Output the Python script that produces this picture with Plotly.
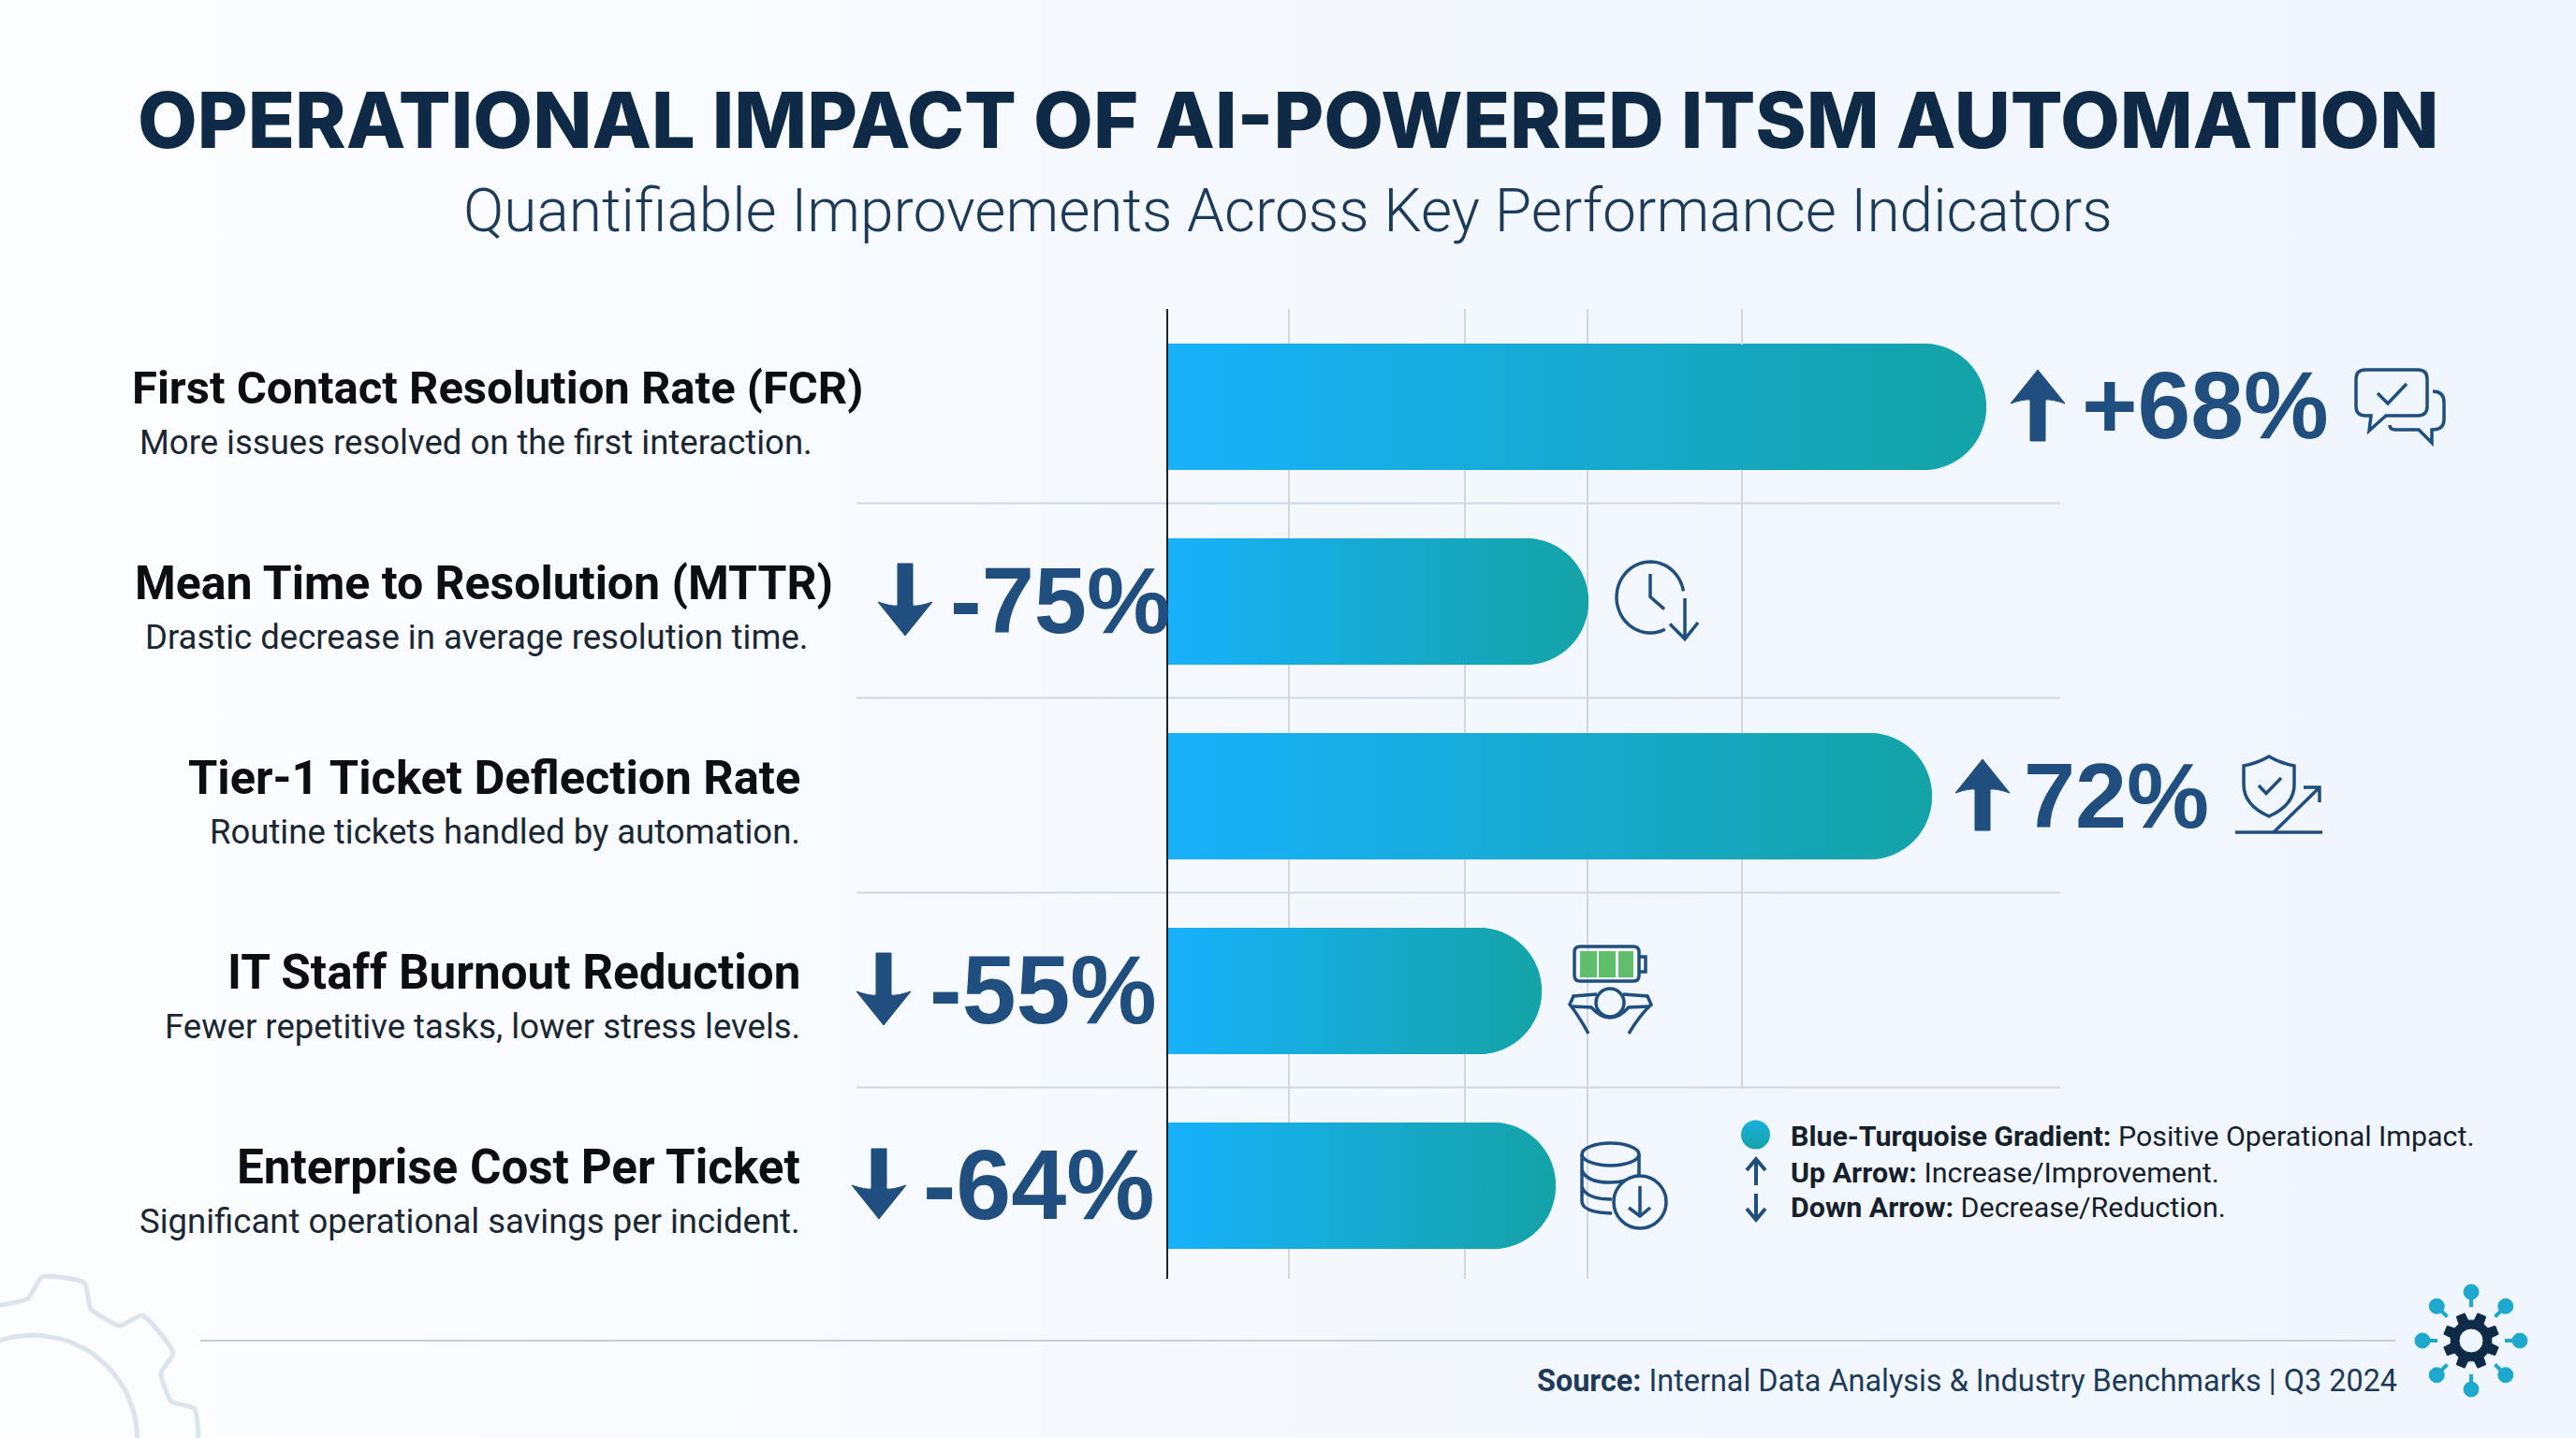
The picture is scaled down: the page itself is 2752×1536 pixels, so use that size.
import math
import plotly.graph_objects as go

W = 2752
H = 1536

# ---- data ----
categories = [
    "First Contact Resolution Rate (FCR)",
    "Mean Time to Resolution (MTTR)",
    "Tier-1 Ticket Deflection Rate",
    "IT Staff Burnout Reduction",
    "Enterprise Cost Per Ticket",
]
descriptions = [
    "More issues resolved on the first interaction.",
    "Drastic decrease in average resolution time.",
    "Routine tickets handled by automation.",
    "Fewer repetitive tasks, lower stress levels.",
    "Significant operational savings per incident.",
]
change_labels = ["+68%", "-75%", "72%", "-55%", "-64%"]
directions = ["up", "down", "up", "down", "down"]
# drawn bar lengths, they do not follow the printed percentages
bar_lengths = [87.4, 44.9, 81.6, 39.9, 41.4]
grid_ticks = [12.9, 31.7, 44.8]
short_grid_tick = 61.3

title = "OPERATIONAL IMPACT OF AI-POWERED ITSM AUTOMATION"
subtitle = "Quantifiable Improvements Across Key Performance Indicators"
legend_bold = ["Blue-Turquoise Gradient:", "Up Arrow:", "Down Arrow:"]
legend_text = ["Positive Operational Impact.", "Increase/Improvement.", "Decrease/Reduction."]
source_bold = "Source:"
source_text = "Internal Data Analysis & Industry Benchmarks | Q3 2024"

# ---- colours ----
NAVY = "#0F2A47"
BLUE = "#1F4E7F"
GRID = "#D0D7E0"
TEAL = "#1FA8CE"
BAR_SCALE = [[0, "#18B1FB"], [1, "#14A3A6"]]
ICON = dict(color=BLUE, width=3.5)

BAR_WIDTH = 0.649
AXIS_X0, AXIS_X1 = 1248, 2248
AXIS_Y0, AXIS_Y1 = 330, 1366
ROW_PX = 208
TOP_CENTER = 434.5
Y_TOP = (AXIS_Y0 - TOP_CENTER) / ROW_PX
Y_BOTTOM = (AXIS_Y1 - TOP_CENTER) / ROW_PX

shapes = []
annotations = []


def note(x, y, text, size, color, anchor="right", family="Roboto", weight=None):
    annotations.append(dict(
        x=x, y=y, xref="x", yref="y", text=text, showarrow=False,
        xanchor=anchor, yanchor="middle",
        font=dict(family=family, size=size, color=color, weight=weight),
    ))


def draw(path, line=ICON, fill=None):
    shapes.append(dict(
        type="path", xref="x", yref="y", path=path, line=line,
        fillcolor=fill if fill else "rgba(0,0,0,0)", layer="above",
    ))


def ellipse(cx, cy, rx, ry, line=ICON, fill=None):
    shapes.append(dict(
        type="circle", xref="x", yref="y", x0=cx - rx, x1=cx + rx, y0=cy - ry, y1=cy + ry,
        line=line, fillcolor=fill if fill else "rgba(0,0,0,0)", layer="above",
    ))


def arc(cx, cy, rx, ry, start, stop, steps=40):
    pts = []
    for i in range(steps + 1):
        a = math.radians(start + (stop - start) * i / steps)
        pts.append((cx + rx * math.cos(a), cy + ry * math.sin(a)))
    return "M" + " L".join(f"{x:.1f},{y:.1f}" for x, y in pts)


def big_arrow(cx, y0, y1, half, up):
    # filled arrow with swept back head, y0 is the top
    s = 1 if up else -1
    tip = y0 if up else y1
    tail = y1 if up else y0
    neck = tip + s * 32
    barb = tip + s * 36
    stem = 8
    draw(
        f"M{cx},{tip} L{cx + half},{barb} Q{cx + half * 0.5},{neck - s * 1} {cx + stem},{neck} "
        f"L{cx + stem},{tail} L{cx - stem},{tail} L{cx - stem},{neck} "
        f"Q{cx - half * 0.5},{neck - s * 1} {cx - half},{barb} Z",
        line=dict(color=BLUE, width=1), fill=BLUE,
    )


def bar_outline(length):
    # rounded end in data units, 1 unit = 10 px on the x axis
    half = BAR_WIDTH / 2
    rx = half * ROW_PX / 10
    xs, ys = [0], [-half]
    for i in range(41):
        a = math.radians(-90 + 180 * i / 40)
        xs.append(length - rx + rx * math.cos(a))
        ys.append(half * math.sin(a))
    xs.append(0)
    ys.append(half)
    xs.append(0)
    ys.append(-half)
    return xs, ys


fig = go.Figure()

# page background
fig.add_trace(go.Scatter(
    x=[0, W, W, 0, 0], y=[0, 0, H, H, 0], mode="lines", fill="toself", line=dict(width=0),
    fillgradient=dict(type="horizontal", colorscale=[[0, "#FCFDFF"], [0.6, "#F3F8FE"], [1, "#F0F6FD"]]),
    hoverinfo="skip", showlegend=False,
))

# row separators and footer rule
for i in range(len(categories) - 1):
    y_sep = 433.5 + ROW_PX * (i + 0.5)
    fig.add_trace(go.Scatter(
        x=[915, 2201], y=[y_sep, y_sep], mode="lines", line=dict(color=GRID, width=2),
        hoverinfo="skip", showlegend=False,
    ))
fig.add_trace(go.Scatter(
    x=[214, 2559], y=[1432, 1432], mode="lines", line=dict(color="#C5CDD8", width=2),
    hoverinfo="skip", showlegend=False,
))

# faint gear bottom left
fig.add_trace(go.Scatter(
    x=[-5, 30, 45, 90, 97, 128, 152, 185, 172, 183, 208, 212],
    y=[1395, 1387, 1364, 1370, 1398, 1416, 1405, 1445, 1467, 1497, 1505, 1540],
    mode="lines", line=dict(color="#DCE3EC", width=5, shape="spline", smoothing=0.5),
    hoverinfo="skip", showlegend=False,
))
fig.add_trace(go.Scatter(
    x=[35 + 112 * math.cos(math.radians(a)) for a in range(0, -121, -5)],
    y=[1538 + 112 * math.sin(math.radians(a)) for a in range(0, -121, -5)],
    mode="lines", line=dict(color="#DCE3EC", width=5), hoverinfo="skip", showlegend=False,
))

# legend dot
fig.add_trace(go.Scatter(
    x=[1875.5], y=[1212], mode="markers", hoverinfo="skip", showlegend=False,
    marker=dict(size=31, color="#1AB0E0", line=dict(width=0),
                gradient=dict(type="vertical", color="#14A3A6")),
))

# chart: the short grid line, plain bars, then the gradient on top of them
fig.add_trace(go.Scatter(
    x=[short_grid_tick, short_grid_tick], y=[Y_TOP, 3.5], xaxis="x2", yaxis="y2",
    mode="lines", line=dict(color=GRID, width=2), hoverinfo="skip", showlegend=False,
))
rows = list(range(len(categories)))
fig.add_trace(go.Bar(
    x=bar_lengths, y=rows, orientation="h", width=BAR_WIDTH, xaxis="x2", yaxis="y2",
    marker=dict(color="#17A9C8", cornerradius=67, line=dict(width=0)),
    customdata=categories, hovertemplate="%{customdata}<extra></extra>", showlegend=False,
))
for row, length in zip(rows, bar_lengths):
    xs, ys = bar_outline(length)
    fig.add_trace(go.Scatter(
        x=xs, y=[row + v for v in ys], xaxis="x2", yaxis="y2", mode="lines", fill="toself",
        line=dict(width=0), fillgradient=dict(type="horizontal", colorscale=BAR_SCALE),
        hoverinfo="skip", showlegend=False,
    ))

# header
note(1376, 128, title, 82.6, NAVY, anchor="center", family="Inter", weight=800)
note(1376, 225, subtitle, 64, "#1D3B58", anchor="center", family="Roboto", weight=300)

# row labels, the first two rows are not flush with the others
title_right = [924, 892, 857, 857, 857]
title_size = [49, 50, 50.6, 51.2, 51.2]
desc_right = [870, 865, 857, 857, 857]
for row, (name, desc) in enumerate(zip(categories, descriptions)):
    yc = 435.5 + ROW_PX * row
    note(title_right[row], yc - 21, f"<b>{name}</b>", title_size[row], "#0B0F14", family="Roboto")
    note(desc_right[row], yc + 37, desc, 36.5, "#1A2733", family="Roboto")

# change labels and arrows
label_x = [2222, 1013, 2160, 991, 984]
label_size = [102, 101, 99, 104, 106]
arrow_pos = [(2177, 395, 471), (967, 602, 679), (2118, 811, 887), (944, 1018, 1095), (939, 1227, 1302)]
label_y = [433, 641, 849, 1057, 1265]
for row, text in enumerate(change_labels):
    note(label_x[row], label_y[row], f"<b>{text}</b>", label_size[row], BLUE,
         anchor="left", family="Liberation Sans")
    cx, y0, y1 = arrow_pos[row]
    big_arrow(cx, y0, y1, 29, directions[row] == "up")

# chat icon
draw("M2527,395 H2583 Q2593,395 2593,405 V434 Q2593,444 2583,444 H2549 L2531,460 L2533,444 "
     "H2527 Q2517,444 2517,434 V405 Q2517,395 2527,395 Z")
draw("M2540,420 L2551,431 L2571,410")
draw("M2599,418 Q2611,418 2611,430 V448 Q2611,459 2598,459 V473 L2584,459 H2559 Q2553,459 2553,454")

# clock icon
draw(arc(1763, 638, 36, 38, 64, 350))
draw("M1763,613 V637.5 L1778,650.6")
draw("M1800,639 V682.6 M1784,666.6 L1800,682.6 L1814,665")

# shield icon
draw("M2424,808 Q2412,815 2397,818 V838 Q2397,860 2424,872 Q2451,860 2451,838 V818 Q2436,815 2424,808 Z")
draw("M2413,839 L2421,847.5 L2437,831")
draw("M2388,889 H2481")
draw("M2429,889 L2477,842 M2461,841 H2478 V857")

# battery and person icon
for x0, x1 in [(1688, 1706), (1708, 1726), (1729, 1745)]:
    shapes.append(dict(type="rect", xref="x", yref="y", x0=x0, x1=x1, y0=1016, y1=1044,
                       fillcolor="#5FBF6B", line=dict(width=0), layer="above"))
draw("M1688,1011 H1745 Q1751,1011 1751,1017 V1042 Q1751,1048 1745,1048 H1688 Q1682,1048 1682,1042 "
     "V1017 Q1682,1011 1688,1011 Z")
draw("M1751,1022 H1758 V1038 H1751")
ellipse(1720, 1071, 15, 15)
draw("M1697,1104 Q1686,1084 1677,1073 L1681,1064 L1706,1062")
draw("M1740,1104 Q1752,1084 1764,1073 L1760,1064 L1734,1062")
draw("M1679,1075 L1700,1076 Q1720,1098 1740,1076 L1762,1075")

# database and coin icon
draw("M1690,1233 V1283 Q1690,1295 1722,1296 M1751,1233 V1262")
ellipse(1720.5, 1233, 30.5, 12)
draw("M1690,1250 Q1695,1263 1720,1263 Q1738,1263 1751,1255")
draw("M1690,1268 Q1695,1281 1722,1281")
ellipse(1752, 1284, 28, 28, fill="#F3F8FE")
draw("M1752,1267 V1299 M1740,1290 L1752,1299 L1763,1290")

# legend
legend_y = [1213, 1252, 1289]
for y_leg, bold, text in zip(legend_y, legend_bold, legend_text):
    note(1911, y_leg, f"<b>{bold}</b> {text}", 30.4, "#15202B", anchor="left", family="Roboto")
draw("M1876,1266 V1240 M1866,1250 L1876,1238 L1886,1250", line=dict(color=BLUE, width=4))
draw("M1876,1275 V1301 M1866,1291 L1876,1303 L1886,1291", line=dict(color=BLUE, width=4))

# source line
note(2563, 1475, f"<b>{source_bold}</b> {source_text}", 32.4, "#1D3B58", family="Roboto")

# logo: gear with eight nodes
CX, CY = 2640, 1432
for k in range(8):
    a = math.radians(45 * k)
    draw(f"M{CX + 36 * math.cos(a):.1f},{CY + 36 * math.sin(a):.1f} "
         f"L{CX + 46 * math.cos(a):.1f},{CY + 46 * math.sin(a):.1f}",
         line=dict(color=TEAL, width=4))
    ellipse(CX + 52 * math.cos(a), CY + 52 * math.sin(a), 8, 8, line=dict(color=TEAL, width=1), fill=TEAL)
gear = []
for k in range(8):
    a = 45 * k + 22.5
    for off, r in [(-14, 22), (-9, 30), (9, 30), (14, 22)]:
        t = math.radians(a + off)
        gear.append((CX + r * math.cos(t), CY + r * math.sin(t)))
draw("M" + " L".join(f"{x:.1f},{y:.1f}" for x, y in gear) + " Z", line=dict(color=NAVY, width=1), fill=NAVY)
ellipse(CX, CY, 13, 13, line=dict(color=NAVY, width=1), fill="#F0F6FD")

fig.update_layout(
    width=W,
    height=H,
    margin=dict(l=0, r=0, t=0, b=0),
    paper_bgcolor="#F6FAFE",
    plot_bgcolor="rgba(0,0,0,0)",
    showlegend=False,
    shapes=shapes,
    annotations=annotations,
    xaxis=dict(domain=[0, 1], range=[0, W], visible=False, fixedrange=True),
    yaxis=dict(domain=[0, 1], range=[H, 0], visible=False, fixedrange=True),
    xaxis2=dict(
        domain=[AXIS_X0 / W, AXIS_X1 / W], range=[0, 100], anchor="y2",
        tickvals=grid_ticks, showgrid=True, gridcolor=GRID, gridwidth=2,
        showticklabels=False, ticks="", zeroline=False,
    ),
    yaxis2=dict(
        domain=[1 - AXIS_Y1 / H, 1 - AXIS_Y0 / H], range=[Y_BOTTOM, Y_TOP], anchor="x2",
        showgrid=False, showticklabels=False, ticks="", zeroline=False,
        showline=True, linecolor="#222222", linewidth=2,
    ),
)

# browser default body margin would push the page 8 px off
fig.write_html("out.html", config={"displayModeBar": False},
               post_script="document.body.style.margin='0';")
